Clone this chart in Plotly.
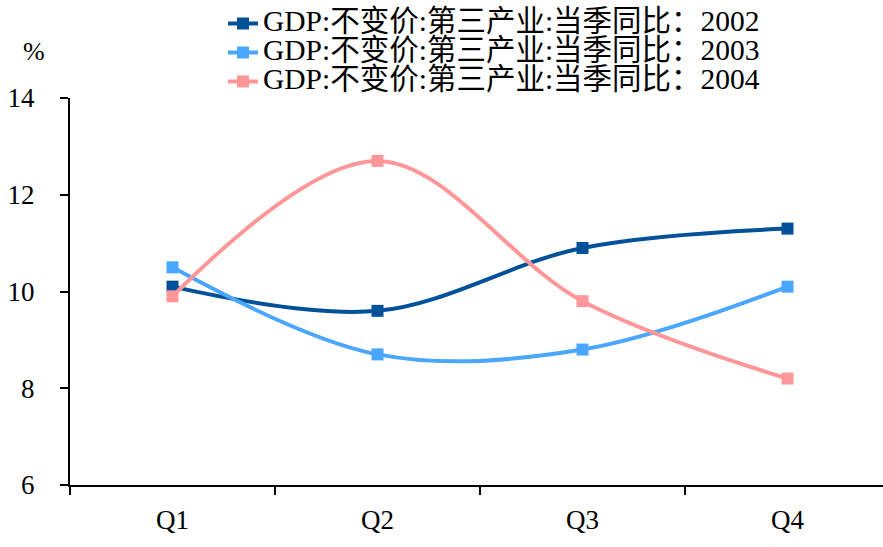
import plotly.graph_objects as go

quarters = ["Q1", "Q2", "Q3", "Q4"]
gdp_2002 = [10.1, 9.6, 10.9, 11.3]
gdp_2003 = [10.5, 8.7, 8.8, 10.1]
gdp_2004 = [9.9, 12.7, 9.8, 8.2]

names = [
    "GDP:不变价:第三产业:当季同比：2002",
    "GDP:不变价:第三产业:当季同比：2003",
    "GDP:不变价:第三产业:当季同比：2004",
]
colors = ["#00519A", "#4AA6FF", "#FF9799"]

fig = go.Figure()
for name, vals, col in zip(names, [gdp_2002, gdp_2003, gdp_2004], colors):
    fig.add_trace(go.Scatter(
        x=quarters, y=vals,
        name='<span style="font-size:29.5px">%s</span>' % name,
        mode="lines+markers",
        line=dict(color=col, width=4, shape="spline", smoothing=1),
        marker=dict(symbol="square", size=12, color=col),
    ))

font_family = "Liberation Serif, Times New Roman, Noto Sans CJK SC, serif"
W, H = 883, 547
ml, mt, mb, mr = 70, 98, 62, 0
cat_px = 205
plot_w = W - ml - mr
plot_h = H - mt - mb

fig.update_layout(
    width=W, height=H,
    margin=dict(l=ml, r=mr, t=mt, b=mb),
    plot_bgcolor="white", paper_bgcolor="white",
    font=dict(family=font_family, size=27, color="black"),
    showlegend=True,
    legend=dict(
        x=(223 - ml) / plot_w, xanchor="left",
        y=1 + (mt - 4) / plot_h, yanchor="top",
        font=dict(size=20, family=font_family),
        bgcolor="rgba(0,0,0,0)", tracegroupgap=0,
    ),
    xaxis=dict(
        range=[-0.5, -0.5 + plot_w / cat_px],
        showline=True, linecolor="black", linewidth=2,
        ticks="outside", ticklen=8, tickwidth=2, tickcolor="black",
        tickson="boundaries", showgrid=False, zeroline=False,
        ticklabelstandoff=10,
        tickfont=dict(size=27),
    ),
    yaxis=dict(
        range=[6, 14], tickvals=[6, 8, 10, 12, 14],
        showline=True, linecolor="black", linewidth=2,
        ticks="outside", ticklen=8, tickwidth=2, tickcolor="black",
        showgrid=False, zeroline=False, ticklabelstandoff=20,
        tickfont=dict(size=27),
    ),
    annotations=[dict(
        text="%", xref="paper", yref="paper",
        x=-(ml - 34) / plot_w, y=1 + (mt - 52) / plot_h,
        xanchor="center", yanchor="middle", showarrow=False,
        font=dict(size=26, family=font_family),
    )],
)

fig.write_html("out.html")
